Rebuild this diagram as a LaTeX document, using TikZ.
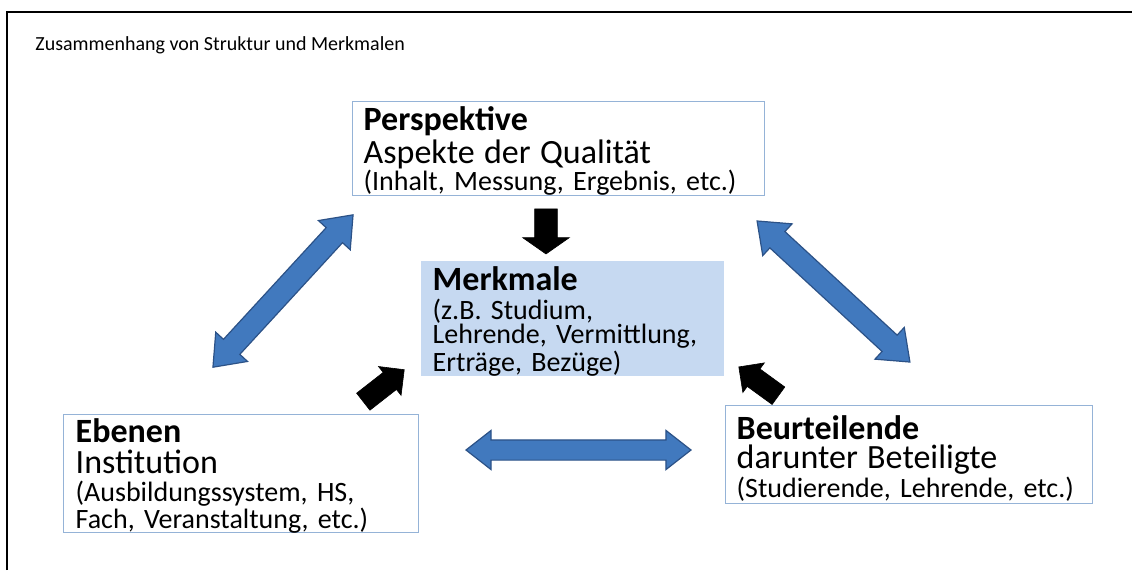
\documentclass[tikz,border=0pt]{standalone}
\usepackage{fontspec}
\setmainfont{Carlito}
\usetikzlibrary{shapes.arrows}

\definecolor{rahmen}{RGB}{149,179,215}
\definecolor{merkfill}{RGB}{198,217,241}
\definecolor{pfeilblau}{RGB}{65,121,190}
\definecolor{pfeilrand}{RGB}{44,82,135}
\newcommand{\gross}{\fontsize{17}{13.5}\selectfont}
\lineskiplimit=-20pt

\begin{document}
\begin{tikzpicture}
            [x=0.5pt,y=-0.5pt,
             kasten/.style={rectangle,draw=rahmen,line width=0.7pt,anchor=north west,align=left,inner xsep=6pt,inner ysep=0pt},
             klein/.style={font=\fontsize{14}{#1}\selectfont},
             blau/.style={double arrow,fill=pfeilblau,draw=pfeilrand,line width=0.6pt,inner xsep=0pt,inner ysep=5.25pt,minimum width=21pt,double arrow head extend=5.25pt,double arrow tip angle=76},
             schwarz/.style={single arrow,fill=black,draw=black,line width=0.3pt,inner xsep=0pt,inner ysep=5.25pt,minimum width=18pt,single arrow head extend=3.75pt,single arrow tip angle=90}]
            \useasboundingbox (0,0) rectangle (1132,570);
            \draw[line width=0.8pt] (7,570) -- (7,12) -- (1132,12);
            \node[anchor=base west,inner sep=0pt,font=\fontsize{10}{12}\selectfont] (titel) at (35,50) {Zusammenhang von Struktur und Merkmalen};

            \node[kasten,klein=13.5,text width=195pt,inner xsep=5.5pt,text height=14.5pt,text depth=32.5pt] (persp) at (352,101)
                {{\gross\bfseries Perspektive}\\[1pt]{\gross Aspekte der Qualität}\\(Inhalt, Messung, Ergebnis, etc.)};
            \node[kasten,klein=12,draw=none,fill=merkfill,text width=139.5pt,text height=15pt,text depth=42.5pt] (merk) at (420,260)
                {{\gross\bfseries Merkmale}\\[2.5pt](z.B. Studium,\\Lehrende, Vermittlung,\\Erträge, Bezüge)};
            \node[kasten,klein=13.75,text width=165.5pt,text height=14pt,text depth=45pt] (ebenen) at (63,414)
                {{\gross\bfseries Ebenen}\\[1.75pt]{\gross Institution}\\(Ausbildungssystem, HS,\\Fach, Veranstaltung, etc.)};
            \node[kasten,klein=13,text width=172.5pt,inner xsep=5.5pt,text height=17pt,text depth=32pt] (beurt) at (725,405)
                {{\gross\bfseries Beurteilende}\\[1.5pt]{\gross darunter Beteiligte}\\(Studierende, Lehrende, etc.)};

            \node[blau,minimum height=103.5pt,rotate=47.4] (pe) at (283,291) {};
            \node[blau,minimum height=104pt,rotate=-42.7] (pb) at (833.5,291.5) {};
            \node[blau,minimum height=112.5pt,minimum width=19pt,inner ysep=4.75pt,double arrow head extend=4.75pt] (eb) at (578.5,450) {};

            \node[schwarz,minimum height=22.5pt,minimum width=23pt,inner ysep=5.5pt,single arrow head extend=6pt,single arrow tip angle=110,rotate=-90] (pm) at (546,227.5) {};
            \node[schwarz,minimum height=26pt,rotate=38] (em) at (379.5,389) {};
            \node[schwarz,minimum height=24.5pt,rotate=144] (bm) at (763,384.5) {};

        \end{tikzpicture}
\end{document}
